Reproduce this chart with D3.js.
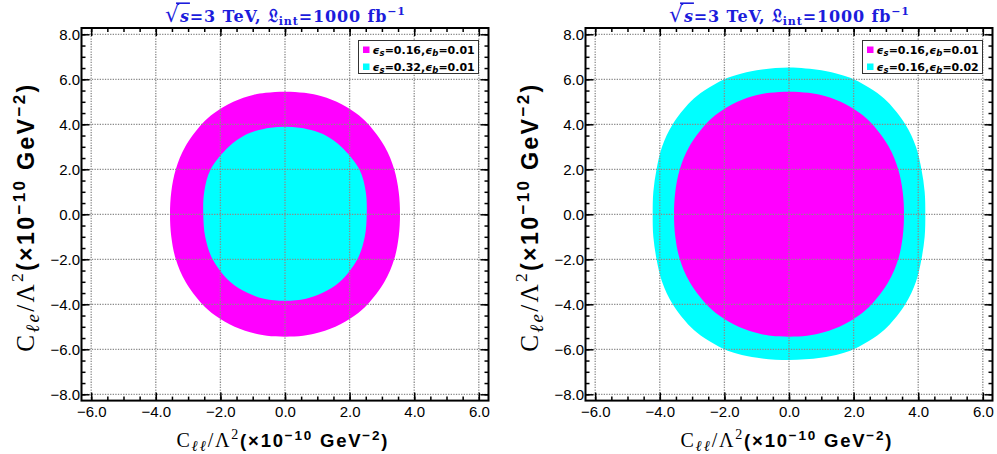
<!DOCTYPE html>
<html>
<head>
<meta charset="utf-8">
<script src="https://cdn.jsdelivr.net/npm/d3@7"></script>
<style>
body { margin: 0; background: #fff; }
</style>
</head>
<body>
<svg width="997" height="454"></svg>
<script>
// ticks
var xTicks = [-6, -4, -2, 0, 2, 4, 6];
var yTicks = [-8, -6, -4, -2, 0, 2, 4, 6, 8];

// contours: y level and half width (symmetric in x)
// eps_s=0.16, eps_b=0.01 (same in both panels)
var magentaY = [5.45, 5.4, 5.3, 5.0, 4.5, 4.0, 3.0, 2.0, 1.0, 0, -1.0, -2.0, -3.0, -4.0, -4.5, -5.0, -5.3, -5.4, -5.44];
var magentaW = [0, 0.6, 0.99, 1.6, 2.19, 2.58, 3.09, 3.38, 3.52, 3.56, 3.52, 3.38, 3.08, 2.56, 2.16, 1.56, 0.93, 0.56, 0];
// eps_s=0.32, eps_b=0.01 (left panel)
var cyanInY = [3.89, 3.85, 3.7, 3.5, 3.0, 2.0, 1.0, 0, -1.0, -2.0, -3.0, -3.5, -3.75, -3.84];
var cyanInW = [0, 0.45, 0.92, 1.26, 1.74, 2.3, 2.5, 2.53, 2.47, 2.24, 1.7, 1.15, 0.65, 0];
// eps_s=0.16, eps_b=0.02 (right panel)
var cyanOutY = [6.53, 6.4, 6.2, 6.0, 5.5, 5.0, 4.0, 3.0, 2.0, 1.0, 0, -1.0, -2.0, -3.0, -4.0, -5.0, -5.5, -6.0, -6.2, -6.38, -6.48];
var cyanOutW = [0, 1.0, 1.6, 2.0, 2.62, 3.05, 3.6, 3.93, 4.1, 4.2, 4.22, 4.2, 4.1, 3.93, 3.6, 3.05, 2.62, 2.0, 1.6, 0.98, 0];

// legend entries
var legendEsLeft = ["0.16", "0.32"];
var legendEbLeft = ["0.01", "0.01"];
var legendEsRight = ["0.16", "0.16"];
var legendEbRight = ["0.01", "0.02"];

var MAGENTA = "#ff00ff", CYAN = "#00ffff", BLUE = "#1c1cdc";

var panels = [
  { left: 81.5,
    shapes: [{ ys: magentaY, hw: magentaW, color: MAGENTA }, { ys: cyanInY, hw: cyanInW, color: CYAN }],
    es: legendEsLeft, eb: legendEbLeft, colors: [MAGENTA, CYAN] },
  { left: 585.5,
    shapes: [{ ys: cyanOutY, hw: cyanOutW, color: CYAN }, { ys: magentaY, hw: magentaW, color: MAGENTA }],
    es: legendEsRight, eb: legendEbRight, colors: [MAGENTA, CYAN] }
];

var svg = d3.select("svg");
var plotW = 407, plotH = 372.6, plotTop = 28;
var serif = "Liberation Serif, Times New Roman, serif";
var sans = "Liberation Sans, Arial, sans-serif";

function contourPoints(ys, hw) {
  var pts = [];
  for (var k = 0; k < ys.length; k++) pts.push([hw[k], ys[k]]);
  for (var k = ys.length - 2; k > 0; k--) pts.push([-hw[k], ys[k]]);
  return pts;
}

// C_sub/Λ²(×10⁻¹⁰ GeV⁻²), k scales the whole label, len is its width
function axisLabel(t, sub, k, len) {
  t.attr("text-anchor", "middle").attr("fill", "#000")
    .attr("textLength", len).attr("lengthAdjust", "spacing");
  t.append("tspan").attr("font-family", serif).attr("font-size", 20 * k).text("C");
  t.append("tspan").attr("font-family", serif).attr("font-style", "italic").attr("font-size", 15 * k)
    .attr("dy", 4 * k).text(sub);
  t.append("tspan").attr("font-family", serif).attr("font-size", 20 * k).attr("dy", -4 * k).text("/Λ");
  t.append("tspan").attr("font-family", serif).attr("font-size", 14 * k).attr("dy", -8 * k).text("2");
  function sp(txt, size, dy) {
    t.append("tspan").attr("font-family", sans).attr("font-weight", "bold")
      .attr("font-size", size * k).attr("dy", dy * k).text(txt);
  }
  sp("(×10", 18.5, 8);
  sp("−10", 13.5, -7);
  sp(" GeV", 18.5, 7);
  sp("−2", 13.5, -7);
  sp(")", 18.5, 7);
}

panels.forEach(function(p) {
  var x = d3.scaleLinear().domain([-6.3, 6.3]).range([p.left, p.left + plotW]);
  var y = d3.scaleLinear().domain([-8.28, 8.28]).range([plotTop + plotH, plotTop]);
  var g = svg.append("g");

  var line = d3.line()
    .x(function(d) { return x(d[0]); })
    .y(function(d) { return y(d[1]); })
    .curve(d3.curveCatmullRomClosed);

  p.shapes.forEach(function(s) {
    g.append("path")
      .attr("d", line(contourPoints(s.ys, s.hw)))
      .attr("fill", s.color);
  });

  // dotted grid
  g.selectAll("line.gx").data(xTicks).enter().append("line")
    .attr("x1", function(d) { return x(d); }).attr("x2", function(d) { return x(d); })
    .attr("y1", plotTop).attr("y2", plotTop + plotH)
    .attr("stroke", "#8a8a8a").attr("stroke-width", 1.3).attr("stroke-dasharray", "1.3,1.3");
  g.selectAll("line.gy").data(yTicks).enter().append("line")
    .attr("y1", function(d) { return y(d); }).attr("y2", function(d) { return y(d); })
    .attr("x1", p.left).attr("x2", p.left + plotW)
    .attr("stroke", "#8a8a8a").attr("stroke-width", 1.3).attr("stroke-dasharray", "1.3,1.3");

  var xMinor = d3.range(-6, 6.001, 0.5);
  var yMinor = d3.range(-8, 8.001, 0.5);
  var fmt = d3.format(".1f");

  function axis(gen, tr, vals, size, labels, pad) {
    var a = g.append("g").attr("transform", tr)
      .call(gen.tickValues(vals).tickSize(size).tickPadding(pad || 3)
        .tickFormat(labels ? fmt : ""));
    a.select(".domain").remove();
    a.selectAll("line").attr("stroke", "#000").attr("stroke-width", 1.5);
    a.selectAll("text").attr("font-family", sans)
      .attr("font-size", 15).attr("fill", "#000");
    return a;
  }
  var bt = "translate(0," + (plotTop + plotH) + ")";
  var tt = "translate(0," + plotTop + ")";
  var lt = "translate(" + p.left + ",0)";
  var rt = "translate(" + (p.left + plotW) + ",0)";
  axis(d3.axisBottom(x), bt, xMinor, -4, false);
  axis(d3.axisBottom(x), bt, xTicks, -8, true, 5.5);
  axis(d3.axisTop(x), tt, xMinor, -4, false);
  axis(d3.axisTop(x), tt, xTicks, -8, false);
  axis(d3.axisLeft(y), lt, yMinor, -4, false);
  axis(d3.axisLeft(y), lt, yTicks, -8, true, 1.5);
  axis(d3.axisRight(y), rt, yMinor, -4, false);
  axis(d3.axisRight(y), rt, yTicks, -8, false);

  g.append("rect")
    .attr("x", p.left).attr("y", plotTop).attr("width", plotW).attr("height", plotH)
    .attr("fill", "none").attr("stroke", "#000").attr("stroke-width", 2);

  // legend
  var lx = p.left + plotW - 130, ly = 40.5;
  var lg = g.append("g");
  lg.append("rect").attr("x", lx).attr("y", ly).attr("width", 120).attr("height", 33)
    .attr("fill", "#fff").attr("stroke", "#333").attr("stroke-width", 1);
  p.es.forEach(function(es, i) {
    var cy = ly + 9 + i * 17;
    lg.append("rect").attr("x", lx + 4.5).attr("y", cy - 3).attr("width", 6.5).attr("height", 6.5)
      .attr("fill", p.colors[i]);
    var t = lg.append("text").attr("x", lx + 14).attr("y", cy + 4)
      .attr("font-family", "DejaVu Sans, sans-serif").attr("font-weight", "bold")
      .attr("font-size", 11).attr("fill", "#000");
    t.append("tspan").attr("font-style", "italic").text("ϵ");
    t.append("tspan").attr("font-size", 8.5).attr("font-style", "italic").attr("dy", 2.5).text("s");
    t.append("tspan").attr("dy", -2.5).text("=" + es + ",");
    t.append("tspan").attr("font-style", "italic").text("ϵ");
    t.append("tspan").attr("font-size", 8.5).attr("font-style", "italic").attr("dy", 2.5).text("b");
    t.append("tspan").attr("dy", -2.5).text("=" + p.eb[i]);
  });

  // title
  var cx = p.left + plotW / 2;
  var tb = 21.5;
  var title = g.append("text").attr("x", cx).attr("y", tb).attr("text-anchor", "middle")
    .attr("font-family", "DejaVu Serif, serif").attr("font-weight", "bold")
    .attr("font-size", 16).attr("fill", BLUE)
    .attr("textLength", 240).attr("lengthAdjust", "spacing");
  title.append("tspan").attr("font-size", 22).attr("font-weight", "normal").text("√");
  title.append("tspan").attr("font-style", "italic").text("s");
  title.append("tspan").text("=3 TeV, ");
  title.append("tspan").attr("font-size", 17).text("𝔏");
  title.append("tspan").attr("font-size", 11).attr("dy", 3).text("int");
  title.append("tspan").attr("dy", -3).text("=1000 fb");
  title.append("tspan").attr("font-size", 11).attr("dy", -7).text("−1");
  var e0 = title.node().getExtentOfChar(0), e1 = title.node().getExtentOfChar(1);
  g.append("line")
    .attr("x1", e0.x + e0.width - 3).attr("x2", e1.x + e1.width + 1)
    .attr("y1", 3.2).attr("y2", 3.2)
    .attr("stroke", BLUE).attr("stroke-width", 1.6);

  // axis labels
  axisLabel(g.append("text").attr("x", cx - 3).attr("y", 446.5), "ℓℓ", 1, 211);
  axisLabel(g.append("text").attr("transform", "translate(" + (p.left - 48) + "," + (y(0) + 4) + ") rotate(-90)"), "ℓe", 1.26, 267);
});
</script>
</body>
</html>
